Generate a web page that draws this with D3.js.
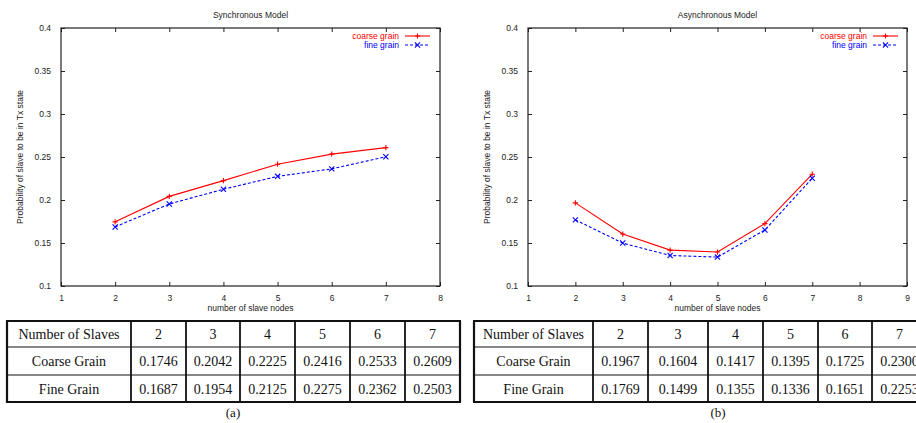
<html>
<head>
<meta charset="utf-8">
<script src="https://d3js.org/d3.v7.min.js"></script>
<style>
  body { margin: 0; background: #fff; }
  svg { display: block; }
</style>
</head>
<body>
<div id="stuff"><svg width="916" height="423"></svg></div>
<script>

// ---- data ----
var slaveNodes = [2, 3, 4, 5, 6, 7];
var syncCoarse = [0.1746, 0.2042, 0.2225, 0.2416, 0.2533, 0.2609];
var syncFine   = [0.1687, 0.1954, 0.2125, 0.2275, 0.2362, 0.2503];
var asyncCoarse = [0.1967, 0.1604, 0.1417, 0.1395, 0.1725, 0.2300];
var asyncFine   = [0.1769, 0.1499, 0.1355, 0.1336, 0.1651, 0.2253];
var yTicks = [0.1, 0.15, 0.2, 0.25, 0.3, 0.35, 0.4];
var syncXTicks = [1, 2, 3, 4, 5, 6, 7, 8];
var asyncXTicks = [1, 2, 3, 4, 5, 6, 7, 8, 9];
var seriesNames = ["coarse grain", "fine grain"];
var rowNames = ["Number of Slaves", "Coarse Grain", "Fine Grain"];

var svg = d3.select("#stuff").select("svg");
var chartFont = "'Liberation Sans', Arial, sans-serif";
var tableFont = "'Liberation Serif', 'DejaVu Serif', serif";
var ink = "#222";

function drawChart(opt) {
	var x = d3.scaleLinear().domain([opt.xTicks[0], opt.xTicks[opt.xTicks.length - 1]]).range([opt.left, opt.right]);
	var y = d3.scaleLinear().domain([0.1, 0.4]).range([opt.bottom, opt.top]);
	var g = svg.append("g");

	function styleAxis(sel, showLabels) {
		sel.select(".domain").remove();
		sel.selectAll(".tick line").attr("stroke", ink).attr("stroke-width", 1);
		sel.selectAll(".tick text")
			.attr("fill", ink)
			.style("font-family", chartFont)
			.style("font-size", "8.5px")
			.style("display", showLabels ? null : "none");
	}

	var fmtY = function(d) { return String(+d.toFixed(2)); };
	g.append("g").attr("transform", "translate(0," + opt.bottom + ")")
		.call(d3.axisBottom(x).tickValues(opt.xTicks).tickFormat(d3.format("d")).tickSize(-4).tickPadding(9))
		.call(styleAxis, true);
	g.append("g").attr("transform", "translate(0," + opt.top + ")")
		.call(d3.axisTop(x).tickValues(opt.xTicks).tickSize(-4))
		.call(styleAxis, false);
	g.append("g").attr("transform", "translate(" + opt.left + ",0)")
		.call(d3.axisLeft(y).tickValues(yTicks).tickFormat(fmtY).tickSize(-4).tickPadding(10))
		.call(styleAxis, true);
	g.append("g").attr("transform", "translate(" + opt.right + ",0)")
		.call(d3.axisRight(y).tickValues(yTicks).tickSize(-4))
		.call(styleAxis, false);

	// frame
	g.append("rect")
		.attr("x", opt.left).attr("y", opt.top)
		.attr("width", opt.right - opt.left).attr("height", opt.bottom - opt.top)
		.attr("fill", "none").attr("stroke", ink).attr("stroke-width", 1.2);

	// titles
	g.append("text")
		.attr("x", (opt.left + opt.right) / 2).attr("y", 18)
		.attr("text-anchor", "middle").attr("fill", ink)
		.style("font-family", chartFont).style("font-size", "8.5px")
		.text(opt.title);
	g.append("text")
		.attr("x", (opt.left + opt.right) / 2).attr("y", opt.bottom + 25)
		.attr("text-anchor", "middle").attr("fill", ink)
		.style("font-family", chartFont).style("font-size", "8.5px")
		.text("number of slave nodes");
	g.append("text")
		.attr("transform", "translate(" + (opt.left - 38) + "," + ((opt.top + opt.bottom) / 2) + ") rotate(-90)")
		.attr("text-anchor", "middle").attr("fill", ink)
		.style("font-family", chartFont).style("font-size", "8.5px")
		.text("Probability of slave to be in Tx state");

	var series = [
		{ name: seriesNames[0], values: opt.coarse, color: "#ff0000", dash: null, marker: "plus" },
		{ name: seriesNames[1], values: opt.fine, color: "#0000ff", dash: "3,2", marker: "cross" }
	];

	function marker(sel, kind, color) {
		var s = 2.6;
		var p = kind === "plus"
			? "M" + (-s) + ",0H" + s + "M0," + (-s) + "V" + s
			: "M" + (-s) + "," + (-s) + "L" + s + "," + s + "M" + (-s) + "," + s + "L" + s + "," + (-s);
		sel.append("path").attr("d", p).attr("stroke", color).attr("stroke-width", 1.1).attr("fill", "none");
	}

	var line = d3.line().x(function(d, i) { return x(slaveNodes[i]); }).y(function(d) { return y(d); });

	series.forEach(function(s, k) {
		g.append("path").datum(s.values)
			.attr("d", line)
			.attr("fill", "none").attr("stroke", s.color).attr("stroke-width", 1.1)
			.attr("stroke-dasharray", s.dash);
		s.values.forEach(function(v, i) {
			var m = g.append("g").attr("transform", "translate(" + x(slaveNodes[i]) + "," + y(v) + ")");
			marker(m, s.marker, s.color);
		});
		// legend
		var ly = opt.top + 8 + k * 9;
		g.append("text")
			.attr("x", opt.legendX).attr("y", ly + 3)
			.attr("text-anchor", "end").attr("fill", s.color)
			.style("font-family", chartFont).style("font-size", "8.5px")
			.text(s.name);
		g.append("line")
			.attr("x1", opt.legendX + 6).attr("x2", opt.legendX + 31)
			.attr("y1", ly).attr("y2", ly)
			.attr("stroke", s.color).attr("stroke-width", 1.1)
			.attr("stroke-dasharray", s.dash);
		var lm = g.append("g").attr("transform", "translate(" + (opt.legendX + 18.5) + "," + ly + ")");
		marker(lm, s.marker, s.color);
	});
}

function drawTable(opt) {
	var g = svg.append("g");
	var rowsY = [321, 347, 375, 402];
	var cells = [
		[rowNames[0]].concat(slaveNodes.map(String)),
		[rowNames[1]].concat(opt.coarse.map(function(v) { return v.toFixed(4); })),
		[rowNames[2]].concat(opt.fine.map(function(v) { return v.toFixed(4); }))
	];
	cells.forEach(function(row, r) {
		row.forEach(function(txt, c) {
			g.append("text")
				.attr("x", (opt.cols[c] + opt.cols[c + 1]) / 2)
				.attr("y", (rowsY[r] + rowsY[r + 1]) / 2 + 5)
				.attr("text-anchor", "middle").attr("fill", "#111")
				.style("font-family", tableFont).style("font-size", "14px")
				.text(txt);
		});
	});
	// inner horizontal rules
	[rowsY[1], rowsY[2]].forEach(function(yy) {
		g.append("line")
			.attr("x1", opt.cols[0]).attr("x2", opt.cols[opt.cols.length - 1])
			.attr("y1", yy).attr("y2", yy)
			.attr("stroke", "#111").attr("stroke-width", 1);
	});
	// vertical rules
	opt.cols.forEach(function(xx, i) {
		g.append("line")
			.attr("x1", xx).attr("x2", xx)
			.attr("y1", rowsY[0]).attr("y2", rowsY[3])
			.attr("stroke", "#111").attr("stroke-width", (i === 0 || i === opt.cols.length - 1) ? 2.2 : 1.8);
	});
	// top and bottom
	[rowsY[0], rowsY[3]].forEach(function(yy) {
		g.append("line")
			.attr("x1", opt.cols[0] - 1).attr("x2", opt.cols[opt.cols.length - 1] + 1)
			.attr("y1", yy).attr("y2", yy)
			.attr("stroke", "#111").attr("stroke-width", 2.2);
	});
	g.append("text")
		.attr("x", opt.captionX).attr("y", 417)
		.attr("text-anchor", "middle").attr("fill", "#111")
		.style("font-family", tableFont).style("font-size", "13px")
		.text(opt.caption);
}

drawChart({
	title: "Synchronous Model", left: 61, right: 440, top: 28, bottom: 286,
	xTicks: syncXTicks, coarse: syncCoarse, fine: syncFine, legendX: 399
});
drawChart({
	title: "Asynchronous Model", left: 528, right: 907, top: 28, bottom: 286,
	xTicks: asyncXTicks, coarse: asyncCoarse, fine: asyncFine, legendX: 867
});

drawTable({ cols: [7, 131, 186, 240, 295, 350, 405, 460], coarse: syncCoarse, fine: syncFine, caption: "(a)", captionX: 233 });
drawTable({ cols: [474, 593, 648, 708, 763, 818, 872, 927], coarse: asyncCoarse, fine: asyncFine, caption: "(b)", captionX: 718 });

</script>
</body>
</html>
